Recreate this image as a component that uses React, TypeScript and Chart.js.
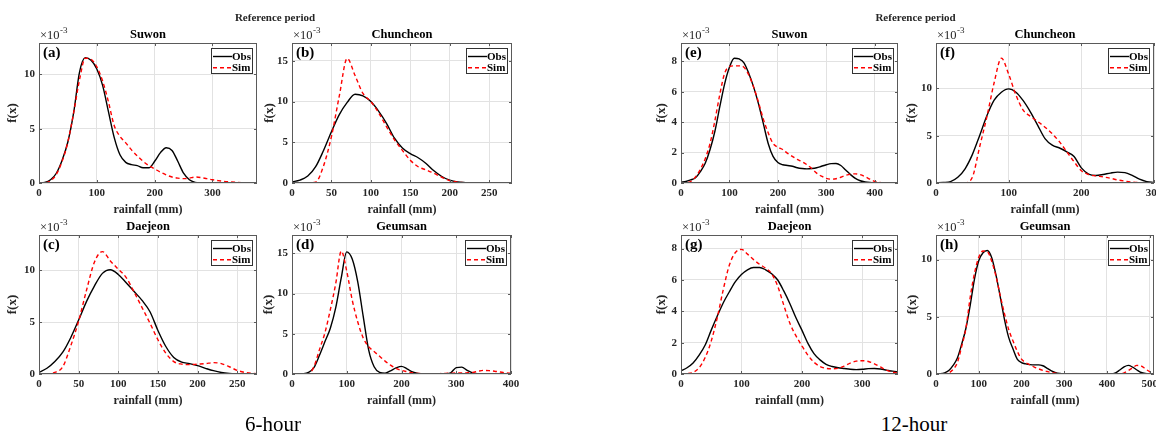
import React, { useEffect, useRef } from "react";
import { Chart, registerables } from "chart.js";

Chart.register(...registerables);

const FONT = "'Liberation Serif', 'Times New Roman', Times, serif";
const INK = "#262626";

// rainfall sampling grid (mm)
const rainfall = [
  0, 10, 20, 30, 40, 50, 60, 70, 80, 90, 100, 110, 120, 130, 140, 150, 160, 170, 180, 190,
  200, 210, 220, 230, 240, 250, 260, 270, 280, 290, 300, 310, 320, 330, 340, 350, 360, 370, 380, 390,
  400, 410, 420, 430, 440, 450, 460, 470, 480, 490, 500, 510,
];

// tick values
const xTicks0to300 = [0, 100, 200, 300];
const xTicks0to400 = [0, 100, 200, 300, 400];
const xTicks0to500 = [0, 100, 200, 300, 400, 500];
const xTicks0to250 = [0, 50, 100, 150, 200, 250];
const yTicks0to10 = [0, 5, 10];
const yTicks0to15 = [0, 5, 10, 15];
const yTicks0to8 = [0, 2, 4, 6, 8];

// (a) Suwon 6-hour, f(x) x 1e-3
const suwon6Obs = [0, 0.05, 0.3, 0.9, 2.1, 3.8, 6.5, 10.2, 11.55, 11.3, 10.5, 9.0, 6.6, 4.2, 2.6, 1.9, 1.7, 1.6, 1.4, 1.4, 2.0, 2.8, 3.25, 3.0, 2.0, 0.9, 0.3, 0.06, 0.01, 0, 0, 0, 0, 0, 0, 0, 0, 0, 0];
const suwon6Sim = [0, 0.02, 0.2, 0.8, 2.0, 3.8, 6.5, 9.5, 11.5, 11.4, 10.7, 9.4, 7.5, 5.3, 4.3, 3.7, 3.05, 2.5, 2.0, 1.6, 1.3, 1.0, 0.75, 0.55, 0.45, 0.4, 0.45, 0.55, 0.5, 0.4, 0.3, 0.22, 0.15, 0.1, 0.06, 0.03, 0.01, 0, 0];
// (b) Chuncheon 6-hour
const chuncheon6Obs = [0.15, 0.35, 0.85, 2.0, 4.0, 6.3, 8.4, 9.9, 10.9, 10.7, 10.0, 8.8, 7.3, 5.5, 4.3, 3.6, 3.1, 2.4, 1.5, 0.8, 0.35, 0.12, 0.05, 0.02, 0, 0, 0, 0, 0];
const chuncheon6Sim = [0, 0, 0, 0.1, 2.1, 5.7, 10.7, 15.3, 13.2, 11.0, 10.0, 8.6, 6.9, 5.3, 4.0, 2.8, 2.0, 1.6, 1.2, 0.7, 0.3, 0.1, 0.03, 0, 0, 0, 0, 0, 0];
// (c) Daejeon 6-hour
const daejeon6Obs = [0.15, 0.55, 1.2, 2.1, 3.5, 5.2, 7.0, 8.5, 9.7, 10.05, 9.6, 8.8, 7.95, 7.1, 6.0, 4.2, 2.65, 1.6, 1.15, 1.0, 0.8, 0.55, 0.32, 0.15, 0.06, 0.02, 0, 0, 0];
const daejeon6Sim = [0, 0.02, 0.15, 0.7, 2.7, 5.1, 8.1, 10.8, 11.8, 10.9, 10.1, 9.3, 7.9, 6.4, 4.9, 3.3, 2.0, 1.2, 0.95, 0.9, 0.95, 1.0, 1.1, 1.0, 0.7, 0.35, 0.15, 0.05, 0.02];
// (d) Geumsan 6-hour
const geumsan6Obs = [0, 0, 0.03, 0.2, 0.8, 2.3, 4.0, 5.7, 8.3, 12.0, 15.2, 14.3, 11.5, 7.2, 3.0, 0.9, 0.2, 0.1, 0.4, 0.75, 0.95, 0.65, 0.25, 0.06, 0.02, 0, 0, 0, 0.02, 0.15, 0.8, 0.85, 0.45, 0.12, 0.02, 0, 0, 0, 0, 0, 0];
const geumsan6Sim = [0, 0, 0, 0.02, 0.9, 3.0, 5.1, 8.0, 11.3, 15.3, 12.8, 9.2, 6.5, 4.5, 3.4, 2.8, 2.2, 1.6, 1.1, 0.7, 0.45, 0.3, 0.15, 0.08, 0.05, 0.03, 0.03, 0.05, 0.08, 0.1, 0.12, 0.12, 0.15, 0.2, 0.35, 0.45, 0.42, 0.35, 0.25, 0.15, 0.1];
// (e) Suwon 12-hour
const suwon12Obs = [0.05, 0.1, 0.2, 0.35, 0.75, 1.3, 2.2, 3.4, 5.0, 6.5, 7.6, 8.2, 8.15, 7.9, 7.2, 6.3, 5.2, 3.9, 2.6, 1.75, 1.35, 1.2, 1.15, 1.1, 1.0, 0.95, 0.93, 0.95, 1.0, 1.1, 1.2, 1.27, 1.28, 1.15, 0.85, 0.55, 0.3, 0.15, 0.07, 0.03, 0.01, 0, 0, 0, 0, 0];
const suwon12Sim = [0, 0.02, 0.1, 0.4, 0.9, 1.6, 2.6, 4.1, 5.8, 7.2, 7.65, 7.7, 7.7, 7.6, 7.1, 6.3, 5.3, 4.2, 3.3, 2.6, 2.35, 2.2, 1.95, 1.75, 1.55, 1.4, 1.2, 0.95, 0.65, 0.45, 0.3, 0.25, 0.28, 0.38, 0.5, 0.58, 0.6, 0.55, 0.42, 0.25, 0.1, 0.04, 0.01, 0, 0, 0];
// (f) Chuncheon 12-hour
const chuncheon12Obs = [0.03, 0.06, 0.15, 0.6, 1.5, 3.0, 5.0, 7.1, 8.75, 9.6, 9.95, 9.6, 8.7, 7.5, 6.1, 4.7, 4.0, 3.7, 3.3, 2.8, 1.6, 0.95, 0.8, 0.9, 1.05, 1.15, 1.1, 0.8, 0.4, 0.15, 0.05];
const chuncheon12Sim = [0, 0, 0, 0, 0.02, 0.6, 3.8, 7.0, 10.6, 13.2, 11.5, 9.3, 7.7, 7.05, 6.5, 5.9, 5.2, 4.35, 3.3, 2.25, 1.3, 0.9, 0.75, 0.65, 0.5, 0.32, 0.2, 0.1, 0.04, 0.01, 0];
// (g) Daejeon 12-hour
const daejeon12Obs = [0.2, 0.4, 0.7, 1.2, 1.85, 2.8, 3.7, 4.55, 5.25, 5.9, 6.35, 6.65, 6.8, 6.8, 6.65, 6.4, 6.0, 5.3, 4.5, 3.6, 2.8, 1.95, 1.3, 0.9, 0.62, 0.48, 0.4, 0.35, 0.3, 0.28, 0.3, 0.34, 0.35, 0.32, 0.25, 0.18, 0.12];
const daejeon12Sim = [0, 0.02, 0.1, 0.4, 1.05, 2.1, 3.6, 5.4, 6.95, 7.75, 7.95, 7.65, 7.3, 7.0, 6.75, 6.4, 5.6, 4.4, 3.25, 2.45, 1.8, 1.2, 0.75, 0.48, 0.36, 0.33, 0.36, 0.5, 0.7, 0.82, 0.85, 0.8, 0.65, 0.45, 0.25, 0.12, 0.05];
// (h) Geumsan 12-hour
const geumsan12Obs = [0, 0.02, 0.1, 0.3, 0.75, 1.4, 2.6, 4.0, 6.0, 8.3, 9.9, 10.6, 10.8, 10.2, 8.7, 6.8, 4.8, 3.2, 2.2, 1.3, 1.0, 0.88, 0.82, 0.8, 0.8, 0.72, 0.5, 0.28, 0.12, 0.05, 0.02, 0, 0, 0, 0, 0, 0, 0, 0, 0, 0, 0, 0.1, 0.35, 0.62, 0.75, 0.6, 0.35, 0.13, 0.04, 0.01, 0];
const geumsan12Sim = [0, 0, 0.02, 0.1, 0.4, 1.0, 2.4, 4.0, 6.7, 8.8, 10.2, 10.75, 10.7, 9.9, 8.6, 6.9, 5.3, 3.9, 2.9, 2.0, 1.3, 1.0, 0.8, 0.6, 0.45, 0.32, 0.22, 0.13, 0.07, 0.03, 0.01, 0, 0, 0, 0, 0, 0, 0, 0, 0, 0, 0, 0, 0, 0.1, 0.3, 0.55, 0.75, 0.7, 0.45, 0.2, 0.08];

const seriesLabels = ["Obs", "Sim"];

type PanelSpec = {
  tag: string;
  title: string;
  obs: number[];
  sim: number[];
  xMax: number;
  yMax: number;
  xTicks: number[];
  yTicks: number[];
  L: number;
  T: number;
  R: number;
  B: number;
  yAxisW: number;
};

const panels: PanelSpec[] = [
  { tag: "(a)", title: "Suwon", obs: suwon6Obs, sim: suwon6Sim, xMax: 377, yMax: 12.9, xTicks: xTicks0to300, yTicks: yTicks0to10, L: 39, T: 43, R: 257, B: 183, yAxisW: 34 },
  { tag: "(b)", title: "Chuncheon", obs: chuncheon6Obs, sim: chuncheon6Sim, xMax: 279, yMax: 17.2, xTicks: xTicks0to250, yTicks: yTicks0to15, L: 292, T: 43, R: 512, B: 183, yAxisW: 30 },
  { tag: "(c)", title: "Daejeon", obs: daejeon6Obs, sim: daejeon6Sim, xMax: 275, yMax: 13.4, xTicks: xTicks0to250, yTicks: yTicks0to10, L: 39, T: 235, R: 257, B: 374, yAxisW: 34 },
  { tag: "(d)", title: "Geumsan", obs: geumsan6Obs, sim: geumsan6Sim, xMax: 400, yMax: 17.3, xTicks: xTicks0to400, yTicks: yTicks0to15, L: 292, T: 235, R: 511, B: 374, yAxisW: 31 },
  { tag: "(e)", title: "Suwon", obs: suwon12Obs, sim: suwon12Sim, xMax: 448, yMax: 9.2, xTicks: xTicks0to400, yTicks: yTicks0to8, L: 681, T: 43, R: 898, B: 183, yAxisW: 27 },
  { tag: "(f)", title: "Chuncheon", obs: chuncheon12Obs, sim: chuncheon12Sim, xMax: 300, yMax: 14.8, xTicks: xTicks0to300, yTicks: yTicks0to10, L: 936, T: 43, R: 1154, B: 183, yAxisW: 32 },
  { tag: "(g)", title: "Daejeon", obs: daejeon12Obs, sim: daejeon12Sim, xMax: 359, yMax: 8.87, xTicks: xTicks0to300, yTicks: yTicks0to8, L: 681, T: 235, R: 898, B: 374, yAxisW: 27 },
  { tag: "(h)", title: "Geumsan", obs: geumsan12Obs, sim: geumsan12Sim, xMax: 510, yMax: 12.15, xTicks: xTicks0to500, yTicks: yTicks0to10, L: 936, T: 235, R: 1154, B: 374, yAxisW: 31 },
];

const PAD_T = 30;
const PAD_R = 14;
const X_AXIS_H = 34;

const decorPlugin = {
  id: "panelDecor",
  afterDatasetsDraw(chart: any, _args: any, opts: any) {
    const { ctx, chartArea } = chart;
    const { left, top, right, bottom } = chartArea;
    const xs = chart.scales.x;
    const ys = chart.scales.y;
    ctx.save();

    // axes box
    ctx.strokeStyle = "#5a5a5a";
    ctx.lineWidth = 1;
    ctx.strokeRect(left + 0.5, top + 0.5, right - left - 1, bottom - top - 1);

    // inward tick marks on all sides
    ctx.beginPath();
    xs.ticks.forEach((t: any) => {
      const px = Math.round(xs.getPixelForValue(t.value)) + 0.5;
      ctx.moveTo(px, bottom);
      ctx.lineTo(px, bottom - 3);
      ctx.moveTo(px, top);
      ctx.lineTo(px, top + 3);
    });
    ys.ticks.forEach((t: any) => {
      const py = Math.round(ys.getPixelForValue(t.value)) + 0.5;
      ctx.moveTo(left, py);
      ctx.lineTo(left + 3, py);
      ctx.moveTo(right, py);
      ctx.lineTo(right - 3, py);
    });
    ctx.stroke();

    // legend box (top-right inside)
    const ds = chart.data.datasets;
    ctx.font = `bold 11px ${FONT}`;
    const textW = Math.max(...ds.map((d: any) => ctx.measureText(d.label).width));
    const lineLen = 19;
    const boxW = Math.round(1.5 + lineLen + textW + 1.5);
    const boxH = 25;
    const bx = Math.round(right - 5 - boxW);
    const by = Math.round(top + 5);
    ctx.fillStyle = "#ffffff";
    ctx.fillRect(bx, by, boxW, boxH);
    ctx.strokeStyle = "#333333";
    ctx.lineWidth = 1;
    ctx.strokeRect(bx + 0.5, by + 0.5, boxW, boxH);
    ds.forEach((d: any, i: number) => {
      const cy = by + 8.5 + i * 11.3;
      ctx.beginPath();
      ctx.strokeStyle = d.borderColor;
      ctx.lineWidth = d.borderWidth;
      ctx.setLineDash(d.borderDash || []);
      ctx.moveTo(bx + 2, cy);
      ctx.lineTo(bx + 2 + lineLen, cy);
      ctx.stroke();
      ctx.setLineDash([]);
      ctx.fillStyle = "#000000";
      ctx.textAlign = "left";
      ctx.textBaseline = "middle";
      ctx.fillText(d.label, bx + 2 + lineLen, cy + 0.5);
    });

    // panel tag (a), (b)...
    ctx.fillStyle = "#000000";
    ctx.font = `bold 15px ${FONT}`;
    ctx.textAlign = "left";
    ctx.textBaseline = "middle";
    ctx.fillText(opts.tag, left + 4, top + 10);

    // title
    ctx.fillStyle = "#000000";
    ctx.font = `bold 12.5px ${FONT}`;
    ctx.textAlign = "center";
    ctx.fillText(opts.title, (left + right) / 2, top - 8.5);

    // exponent label x10^-3
    ctx.fillStyle = INK;
    ctx.font = `12.5px ${FONT}`;
    ctx.textAlign = "left";
    const base = "\u00d710";
    ctx.fillText(base, left + 1, top - 7.5);
    const bw = ctx.measureText(base).width;
    ctx.font = `9px ${FONT}`;
    ctx.fillText("-3", left + 1 + bw + 0.5, top - 12);

    ctx.restore();
  },
};

function Panel({ p }: { p: PanelSpec }) {
  const ref = useRef<HTMLCanvasElement | null>(null);
  const w = p.yAxisW + (p.R - p.L) + PAD_R;
  const h = PAD_T + (p.B - p.T) + X_AXIS_H;

  useEffect(() => {
    if (!ref.current) return;
    const tickFont = { family: FONT, size: 11, weight: "bold" as const };
    const chart = new Chart(ref.current, {
      type: "line",
      data: {
        datasets: [
          {
            label: seriesLabels[0],
            data: p.obs.map((y, i) => ({ x: rainfall[i], y })),
            borderColor: "#000000",
            borderWidth: 1.4,
            pointRadius: 0,
            fill: false,
            cubicInterpolationMode: "monotone",
            order: 1,
          },
          {
            label: seriesLabels[1],
            data: p.sim.map((y, i) => ({ x: rainfall[i], y })),
            borderColor: "#ff0000",
            borderWidth: 1.4,
            borderDash: [4, 3],
            pointRadius: 0,
            fill: false,
            cubicInterpolationMode: "monotone",
            order: 0,
          },
        ],
      },
      options: {
        animation: false,
        responsive: false,
        maintainAspectRatio: false,
        devicePixelRatio: 1,
        events: [],
        layout: { padding: { left: 0, top: PAD_T, right: PAD_R, bottom: 0 } },
        plugins: {
          legend: { display: false },
          tooltip: { enabled: false },
          title: { display: false },
          panelDecor: { tag: p.tag, title: p.title },
        } as any,
        scales: {
          x: {
            type: "linear",
            min: 0,
            max: p.xMax,
            afterBuildTicks: (s: any) => {
              s.ticks = p.xTicks.map((v) => ({ value: v }));
            },
            ticks: {
              autoSkip: false,
              maxRotation: 0,
              padding: 3.5,
              color: INK,
              font: tickFont,
            },
            grid: { color: "#e2e2e2", drawTicks: false, lineWidth: 1 },
            border: { display: false },
            title: {
              display: true,
              text: "rainfall (mm)",
              color: INK,
              padding: 0,
              font: { family: FONT, size: 12, weight: "bold" },
            },
            afterFit: (s: any) => {
              s.height = X_AXIS_H;
              s.paddingLeft = 0;
              s.paddingRight = 0;
            },
          },
          y: {
            type: "linear",
            min: 0,
            max: p.yMax,
            afterBuildTicks: (s: any) => {
              s.ticks = p.yTicks.map((v) => ({ value: v }));
            },
            ticks: {
              autoSkip: false,
              padding: 4,
              color: INK,
              font: tickFont,
            },
            grid: { color: "#e2e2e2", drawTicks: false, lineWidth: 1 },
            border: { display: false },
            title: {
              display: true,
              text: "f(x)",
              color: INK,
              padding: 0,
              font: { family: FONT, size: 13, weight: "bold" },
            },
            afterFit: (s: any) => {
              s.width = p.yAxisW;
              s.paddingTop = 0;
              s.paddingBottom = 0;
            },
          },
        },
      },
      plugins: [decorPlugin],
    } as any);
    return () => chart.destroy();
  }, [p]);

  return (
    <canvas
      ref={ref}
      width={w}
      height={h}
      style={{ position: "absolute", left: p.L - p.yAxisW, top: p.T - PAD_T, width: w, height: h }}
    />
  );
}

function Label({ text, x, y, font, color }: { text: string; x: number; y: number; font: string; color: string }) {
  return (
    <div
      style={{
        position: "absolute",
        left: x,
        top: y,
        transform: "translate(-50%, -50%)",
        font,
        lineHeight: 1,
        color,
        whiteSpace: "nowrap",
      }}
    >
      {text}
    </div>
  );
}

export default function App() {
  return (
    <div
      style={{
        position: "absolute",
        left: 0,
        top: 0,
        width: 1156,
        height: 435,
        overflow: "hidden",
        background: "#ffffff",
      }}
    >
      {panels.map((p) => (
        <Panel key={p.tag} p={p} />
      ))}
      <Label text="Reference period" x={275} y={16.5} font={`bold 11px ${FONT}`} color={INK} />
      <Label text="Reference period" x={915.5} y={16.5} font={`bold 11px ${FONT}`} color={INK} />
      <Label text="6-hour" x={273} y={424} font={`21px ${FONT}`} color="#000000" />
      <Label text="12-hour" x={914} y={424} font={`21px ${FONT}`} color="#000000" />
    </div>
  );
}
